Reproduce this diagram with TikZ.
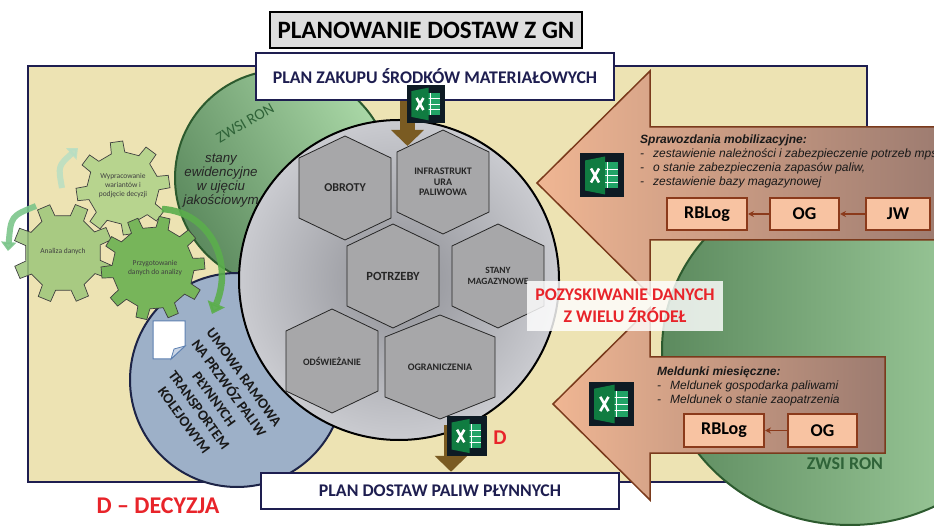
\documentclass[tikz,border=0pt]{standalone}
\usepackage{fontspec}
\setmainfont{Carlito}
\newfontfamily\arialfont{Liberation Sans}
\usetikzlibrary{arrows.meta,calc}

\definecolor{beige}{HTML}{EDE3B3}
\definecolor{navy}{HTML}{1E1E50}
\definecolor{hexfill}{HTML}{A7A7A9}
\definecolor{grayIn}{HTML}{8E8F95}
\definecolor{grayOut}{HTML}{CACBD0}
\definecolor{salL}{HTML}{F0B693}
\definecolor{salR}{HTML}{9C7B70}
\definecolor{salEdge}{HTML}{7A3A1C}
\definecolor{peach}{HTML}{F8C3A2}
\definecolor{boxEdge}{HTML}{8B3A1B}
\definecolor{gDark}{HTML}{5C8A5E}
\definecolor{gLight}{HTML}{A9D7A6}
\definecolor{gEdge}{HTML}{2C5A2E}
\definecolor{gText}{HTML}{2F6338}
\definecolor{umowa}{HTML}{9DB0C8}
\definecolor{umowaEdge}{HTML}{1D2447}
\definecolor{docEdge}{HTML}{5B7FB0}
\definecolor{docFold}{HTML}{C9D5E6}
\definecolor{olive}{HTML}{7A5B22}
\definecolor{redtxt}{HTML}{E8242A}
\definecolor{gearA}{HTML}{B7D48E}
\definecolor{gearB}{HTML}{9CC67A}
\definecolor{gearC}{HTML}{77B55A}
\definecolor{mint}{HTML}{B5DEC4}
\definecolor{arrowG}{HTML}{7CC58B}
\definecolor{arrowBig}{HTML}{5BAE4C}
\definecolor{xlBg}{HTML}{0E1B24}
\definecolor{xlDark}{HTML}{107C41}
\definecolor{xlLight}{HTML}{21A366}

% gear outline: optional style, centre x, centre y, teeth, root radius, tip radius
\newcommand\mygear[6][]{%
  \pgfmathsetmacro\gstep{360/#4}%
  \draw[shift={(#2,#3)}, #1] ({0.24*\gstep}:#5)
    \foreach \k in {1,...,#4}{
      -- ({(\k-0.24)*\gstep}:#5) -- ({(\k-0.17)*\gstep}:#6)
      -- ({(\k+0.17)*\gstep}:#6) -- ({(\k+0.24)*\gstep}:#5)
    } -- cycle;}

% pointy-top hexagon: name, centre x, centre y, half width
\newcommand\hexcell[4]{%
  \coordinate (#1) at (#2,#3);
  \draw[hexstyle] ($(#1)+(0,-52)$) -- ++(#4,22) -- ++(0,60) -- ++(-#4,22)
    -- ++(-#4,-22) -- ++(0,-60) -- cycle;}

\newcommand\dashitem[1]{\makebox[13pt][l]{-}#1}

\tikzset{
  pics/xlicon/.style={code={
    \coordinate (-c) at (0,0);
    \fill[xlBg] (-22,-22) rectangle (22,22);
    \fill[xlLight] (-2,-13) rectangle (16,13);
    \draw[white, line width=0.7pt] (5,-13) -- (5,13) (-2,-6.5) -- (16,-6.5)
      (-2,0) -- (16,0) (-2,6.5) -- (16,6.5);
    \fill[xlDark] (-17,-15) -- (3,-19) -- (3,19) -- (-17,15) -- cycle;
    \draw[white, line width=2.6pt] (-11,-7) -- (-3,7) (-3,-7) -- (-11,7);
  }}
}

\begin{document}
\begin{tikzpicture}[x=1pt, y=-1pt,
  panelbox/.style={draw=navy, line width=2pt, fill=beige, minimum width=839pt,
    minimum height=416pt, inner sep=0pt},
  hexstyle/.style={fill=hexfill, draw=black!85, line width=0.8pt},
  hexlabel/.style={font=\bfseries\fontsize{9.5}{11}\selectfont, text=black!85, align=center},
  gearstyle/.style={draw=black!75, line width=0.7pt},
  gearlabel/.style={font=\fontsize{7.5}{9}\selectfont, text=black!75, align=center},
  titlebox/.style={draw=black, line width=2pt, fill=black!13, minimum width=312pt,
    minimum height=36pt, font=\bfseries\fontsize{25}{28}\selectfont},
  planbox/.style={draw=navy, line width=2.5pt, fill=white, text=navy,
    minimum width=358pt, font=\bfseries},
  salarrow/.style={draw=salEdge, line width=1.5pt, left color=salL, right color=salR},
  listtext/.style={font=\arialfont\itshape\fontsize{12}{14}\selectfont, align=left,
    inner sep=0pt, text=black!90},
  srcbox/.style={draw=boxEdge, line width=2pt, fill=peach, minimum height=32pt,
    inner sep=0pt, font=\bfseries\fontsize{18}{20}\selectfont},
  srclink/.style={draw=boxEdge, line width=1.5pt, -{Stealth[length=6pt,width=6pt]}},
  olivearrow/.style={draw=olive, line width=15pt, -{Triangle[width=32pt,length=16pt]}},
]
\useasboundingbox (0,0) rectangle (934,526);
\clip (0,0) rectangle (934,526);

% background panel
\node[panelbox] (panel) at (447.5,274) {};

% ZWSI RON area on the right
\draw[draw=gEdge, line width=2pt, left color=gDark, right color=gLight]
  (850,350) ellipse [x radius=188, y radius=175];

% ZWSI RON area on the upper left
\draw[draw=gEdge, line width=2pt, left color=gDark, right color=gLight, shading angle=120]
  (283,178) circle [radius=108];
\node[font=\fontsize{15.5}{17}\selectfont, text=gText, rotate=30] (zwsiA) at (245,123) {ZWSI RON};
\node[font=\arialfont\itshape\fontsize{13.3}{14}\selectfont, align=center, text=black!85]
  (stany) at (221,181) {stany\\ewidencyjne\\w ujęciu\\jakościowym};

% framework agreement area
\draw[draw=umowaEdge, line width=2pt, fill=umowa] (237,380) circle [radius=107];
\draw[draw=docEdge, fill=white, line width=1pt]
  (153,321) -- (185,321) -- (185,346) -- (171,359) -- (153,359) -- cycle;
\draw[draw=docEdge, fill=docFold, line width=0.8pt] (185,346) -- (174,349) -- (171,359) -- cycle;
\node[font=\bfseries\fontsize{14.5}{18.5}\selectfont, text=black!90, align=center, rotate=-54]
  (umowa) at (214,399) {UMOWA RAMOWA\\NA PRZWÓZ PALIW\\PŁYNNYCH\\TRANSPORTEM\\KOLEJOWYM};

% decision gears
\mygear[gearstyle, fill=gearA, rotate=8]{123}{188}{8}{36}{47}
\node[gearlabel] (gWyp) at (123,186) {Wypracowanie\\wariantów i\\podjęcie decyzji};
\mygear[gearstyle, fill=gearB, fill opacity=0.85, rotate=-22]{63}{253}{8}{38}{50}
\node[gearlabel] (gAna) at (63,252) {Analiza danych};
\mygear[gearstyle, fill=gearC, rotate=5]{153}{268}{10}{41}{52}
\node[gearlabel] (gPrz) at (155,268) {Przygotowanie\\danych do analizy};

% cycle arrows
\draw[line width=6pt, draw=mint, opacity=0.8, -{Triangle[width=15pt,length=9pt]}]
  (62,188) .. controls (58,166) .. (78,148);
\draw[line width=6pt, draw=arrowG, opacity=0.9, -{Triangle[width=15pt,length=9pt]}]
  (36,206) .. controls (11,216) .. (8,251);
\draw[line width=6.5pt, draw=arrowBig, opacity=0.9, -{Triangle[width=18pt,length=11pt]}]
  (162,209) .. controls (210,212) and (234,262) .. (212,314);

% data hub
\draw[line width=2pt, draw=black, inner color=grayIn, outer color=grayOut]
  (399,280) circle [radius=160];
\hexcell{hObr}{345}{188}{46}
\hexcell{hInf}{443}{182}{46}
\hexcell{hPot}{393}{276}{46}
\hexcell{hSta}{498}{276}{46}
\hexcell{hOds}{332}{361}{46}
\hexcell{hOgr}{440}{367}{55}
\node[hexlabel, font=\bfseries\fontsize{12}{14}\selectfont] (tObr) at (hObr) {OBROTY};
\node[hexlabel, font=\bfseries\fontsize{10}{10.5}\selectfont] (tInf) at (hInf) {INFRASTRUKT\\URA\\PALIWOWA};
\node[hexlabel, font=\bfseries\fontsize{12.5}{14}\selectfont] (tPot) at (hPot) {POTRZEBY};
\node[hexlabel] (tSta) at (hSta) {STANY\\MAGAZYNOWE};
\node[hexlabel, font=\bfseries\fontsize{9.8}{11}\selectfont] (tOds) at (hOds) {ODŚWIEŻANIE};
\node[hexlabel, font=\bfseries\fontsize{10}{11}\selectfont] (tOgr) at (hOgr) {OGRANICZENIA};

% incoming reports
\draw[salarrow] (537,183) -- (650,71) -- (650,127) -- (945,127) -- (945,240)
  -- (650,240) -- (650,295) -- cycle;
\draw[salarrow] (553,404) -- (650,308) -- (650,357) -- (885,357) -- (885,453)
  -- (650,453) -- (650,500) -- cycle;

\node[listtext, anchor=north west] (sprawTxt) at (640,135)
  {\textbf{Sprawozdania mobilizacyjne:}\\
   \dashitem{zestawienie należności i zabezpieczenie potrzeb mps}\\
   \dashitem{o stanie zabezpieczenia zapasów paliw,}\\
   \dashitem{zestawienie bazy magazynowej}};
\node[srcbox, minimum width=80pt] (rbA) at (707,214) {RBLog};
\node[srcbox, minimum width=69pt] (ogA) at (804.5,214) {OG};
\node[srcbox, minimum width=64pt] (jwA) at (898,214) {JW};
\draw[srclink] (jwA) -- (ogA);
\draw[srclink] (ogA) -- (rbA);

\node[listtext, anchor=north west] (meldTxt) at (657,367)
  {\textbf{Meldunki miesięczne:}\\
   \dashitem{Meldunek gospodarka paliwami}\\
   \dashitem{Meldunek o stanie zaopatrzenia}};
\node[srcbox, minimum width=80pt, minimum height=33pt] (rbB) at (724,430.5) {RBLog};
\node[srcbox, minimum width=69pt, minimum height=33pt] (ogB) at (822.5,430.5) {OG};
\draw[srclink] (ogB) -- (rbB);

\node[font=\bfseries\fontsize{18}{20}\selectfont, text=gText] (zwsiB) at (845,464) {ZWSI RON};

% title and plans
\node[titlebox] (title) at (426,30) {PLANOWANIE DOSTAW Z GN};
\node[planbox, minimum height=47pt, font=\bfseries\fontsize{17.8}{20}\selectfont]
  (zakup) at (435,76.5) {PLAN ZAKUPU ŚRODKÓW MATERIAŁOWYCH};
\node[planbox, minimum height=36pt, font=\bfseries\fontsize{17.8}{20}\selectfont]
  (dostaw) at (440,491) {PLAN DOSTAW PALIW PŁYNNYCH};

% flows into and out of the hub
\coordinate (topTip) at (407.5,146);
\draw[olivearrow] (zakup.south -| topTip) -- (topTip);
\coordinate (botStart) at (451,425);
\draw[olivearrow] (botStart) -- (dostaw.north -| botStart);

\pic[scale=0.86] (xlTop) at (426,104) {xlicon};
\pic (xlUp) at (602,175.5) {xlicon};
\pic[scale=1.02] (xlLow) at (611.5,404) {xlicon};
\pic[scale=0.9] (xlBot) at (467,436) {xlicon};

\node[fill=white, fill opacity=0.82, text opacity=1, text=redtxt, align=center,
  minimum width=196pt, minimum height=50pt, inner sep=0pt,
  font=\bfseries\fontsize{17.8}{22}\selectfont] (pozysk) at (625,306)
  {POZYSKIWANIE DANYCH\\Z WIELU ŹRÓDEŁ};

\node[text=redtxt, font=\bfseries\fontsize{21}{23}\selectfont] (dMark) at (500,438) {D};
\node[text=redtxt, font=\bfseries\fontsize{24}{26}\selectfont] (decyzja) at (158,506) {D – DECYZJA};
\end{tikzpicture}
\end{document}
